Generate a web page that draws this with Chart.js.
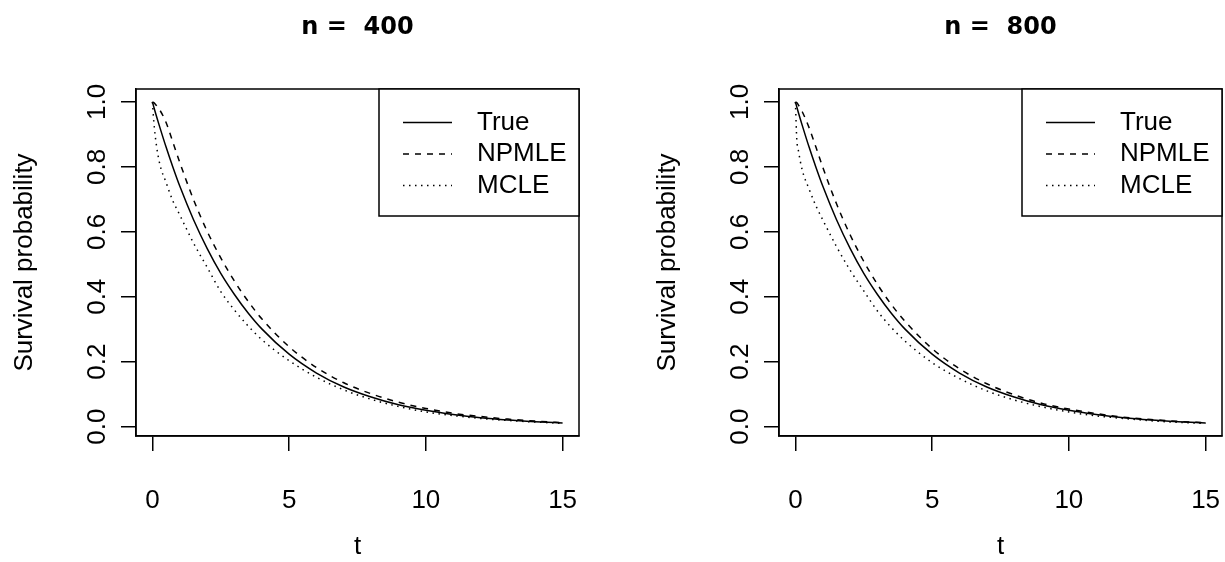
<!DOCTYPE html>
<html lang="en">

<head>
    <meta charset="UTF-8">
    <title>Survival probability, n = 400 and n = 800</title>
    <style>
        body { margin: 0; background: #fff; width: 1225px; height: 562px; overflow: hidden; position: relative; }
        .painel { position: absolute; top: 0; }
    </style>
</head>

<body>
    <div class="painel" style="left:0px"><canvas id="grafico400" width="612" height="562"></canvas></div>
    <div class="painel" style="left:643px"><canvas id="grafico800" width="582" height="562"></canvas></div>
</body>

</html>
<script src="https://cdn.jsdelivr.net/npm/chart.js@4/dist/chart.umd.min.js"></script>

<script>

    // valores
    const tempos = [0, 0.05, 0.1, 0.25, 0.5, 0.75, 1, 1.5, 2, 2.5, 3, 3.5, 4, 5, 6, 7, 8, 9, 10, 11, 12, 13, 14, 15];

    const sobrevVerdadeira = [1.000, 0.985, 0.970, 0.928, 0.861, 0.799, 0.741, 0.638, 0.549, 0.472, 0.407, 0.350, 0.301,
        0.223, 0.165, 0.122, 0.091, 0.067, 0.050, 0.037, 0.027, 0.020, 0.015, 0.011];

    const npmle400 = [1.000, 0.998, 0.994, 0.978, 0.937, 0.876, 0.814, 0.700, 0.602, 0.520, 0.448, 0.386, 0.332,
        0.246, 0.182, 0.135, 0.101, 0.075, 0.056, 0.041, 0.031, 0.023, 0.017, 0.012];
    const mcle400 = [1.000, 0.940, 0.897, 0.816, 0.752, 0.695, 0.652, 0.566, 0.491, 0.416, 0.359, 0.310, 0.268,
        0.203, 0.152, 0.113, 0.084, 0.062, 0.045, 0.034, 0.025, 0.019, 0.014, 0.010];

    const npmle800 = [1.000, 0.998, 0.992, 0.970, 0.921, 0.861, 0.799, 0.687, 0.591, 0.509, 0.438, 0.377, 0.325,
        0.240, 0.178, 0.132, 0.098, 0.072, 0.054, 0.040, 0.029, 0.022, 0.016, 0.012];
    const mcle800 = [1.000, 0.885, 0.855, 0.790, 0.732, 0.680, 0.637, 0.555, 0.482, 0.418, 0.356, 0.306, 0.264,
        0.197, 0.148, 0.110, 0.082, 0.061, 0.045, 0.033, 0.025, 0.018, 0.013, 0.010];

    const nomesSeries = ['True', 'NPMLE', 'MCLE'];
    const titulos = ['n =  400', 'n =  800'];
    const ticksX = [0, 5, 10, 15];
    const ticksY = [0, 0.2, 0.4, 0.6, 0.8, 1.0];
    const limitesX = [-0.6, 15.6];
    const limitesY = [-0.029, 1.04];

    const fonte = 'Liberation Sans';

    // caixa do grafico e legenda no estilo do R
    const molduraR = {
        id: 'molduraR',
        afterDatasetsDraw(chart) {
            const { ctx, chartArea: a } = chart;
            ctx.save();
            ctx.strokeStyle = '#000';
            ctx.lineWidth = 1.5;
            ctx.strokeRect(a.left, a.top, a.right - a.left, a.bottom - a.top);

            const larg = 200, alt = 127;
            const lx = a.right - larg, ly = a.top;
            ctx.fillStyle = '#fff';
            ctx.fillRect(lx, ly, larg, alt);
            ctx.strokeRect(lx, ly, larg, alt);

            ctx.font = '26px "' + fonte + '"';
            ctx.textBaseline = 'middle';
            ctx.textAlign = 'left';
            chart.data.datasets.forEach(function (ds, i) {
                const y = ly + 33.5 + i * 31.5;
                ctx.setLineDash(ds.borderDash || []);
                ctx.beginPath();
                ctx.moveTo(lx + 24, y);
                ctx.lineTo(lx + 73, y);
                ctx.stroke();
                ctx.setLineDash([]);
                ctx.fillStyle = '#000';
                ctx.fillText(ds.label, lx + 98, y);
            });
            ctx.restore();
        }
    };

    function pontos(valores) {
        let lista = [];
        for (let i = 0; i < tempos.length; i++) {
            lista.push({ x: tempos[i], y: valores[i] });
        }
        return lista;
    }

    function serie(nome, valores, tracejado) {
        return {
            label: nome,
            data: pontos(valores),
            borderColor: '#000',
            borderWidth: 1.5,
            borderDash: tracejado,
            borderCapStyle: 'butt',
            pointRadius: 0,
            cubicInterpolationMode: 'monotone',
            fill: false
        };
    }

    function plotarGrafico(idCanvas, titulo, npmle, mcle, margemDireita) {
        const ctx = document.getElementById(idCanvas);

        new Chart(ctx, {
            type: 'line',
            data: {
                datasets: [
                    serie(nomesSeries[0], sobrevVerdadeira, []),
                    serie(nomesSeries[1], npmle, [6, 6]),
                    serie(nomesSeries[2], mcle, [1.5, 4.5])
                ]
            },
            options: {
                responsive: false,
                animation: false,
                events: [],
                layout: { padding: { left: 0, top: 0, bottom: 0, right: margemDireita } },
                plugins: {
                    legend: { display: false },
                    tooltip: { enabled: false },
                    title: {
                        display: true,
                        text: titulo,
                        fullSize: false,
                        color: '#000',
                        font: { family: 'DejaVu Sans', size: 24, weight: 'bold' },
                        padding: { top: 13, bottom: 47.2 }
                    }
                },
                scales: {
                    x: {
                        type: 'linear',
                        min: limitesX[0],
                        max: limitesX[1],
                        afterBuildTicks: function (s) { s.ticks = ticksX.map(v => ({ value: v })); },
                        afterFit: function (s) { s.height = 126; s.paddingLeft = 0; s.paddingRight = 0; },
                        grid: { drawOnChartArea: false, color: '#000', lineWidth: 1.5, tickLength: 15 },
                        border: { color: '#000', width: 1.5 },
                        ticks: {
                            color: '#000', autoSkip: false, maxRotation: 0, padding: 34,
                            font: { family: fonte, size: 26 },
                            callback: v => String(v)
                        },
                        title: {
                            display: true, text: 't', color: '#000',
                            font: { family: fonte, size: 26 },
                            padding: { top: 0, bottom: 0 }
                        }
                    },
                    y: {
                        type: 'linear',
                        min: limitesY[0],
                        max: limitesY[1],
                        afterBuildTicks: function (s) { s.ticks = ticksY.map(v => ({ value: v })); },
                        afterFit: function (s) { s.width = 136; s.paddingTop = 0; s.paddingBottom = 0; },
                        grid: { drawOnChartArea: false, color: '#000', lineWidth: 1.5, tickLength: 15 },
                        border: { color: '#000', width: 1.5 },
                        ticks: {
                            color: '#000', autoSkip: false, minRotation: 90, maxRotation: 90,
                            crossAlign: 'center', padding: 5,
                            font: { family: fonte, size: 26 },
                            callback: v => v.toFixed(1)
                        },
                        title: {
                            display: true, text: 'Survival probability', color: '#000',
                            font: { family: fonte, size: 26 },
                            padding: { top: 9, bottom: 0 }
                        }
                    }
                }
            },
            plugins: [molduraR]
        });
    }

    plotarGrafico('grafico400', titulos[0], npmle400, mcle400, 33);
    plotarGrafico('grafico800', titulos[1], npmle800, mcle800, 3);

</script>
